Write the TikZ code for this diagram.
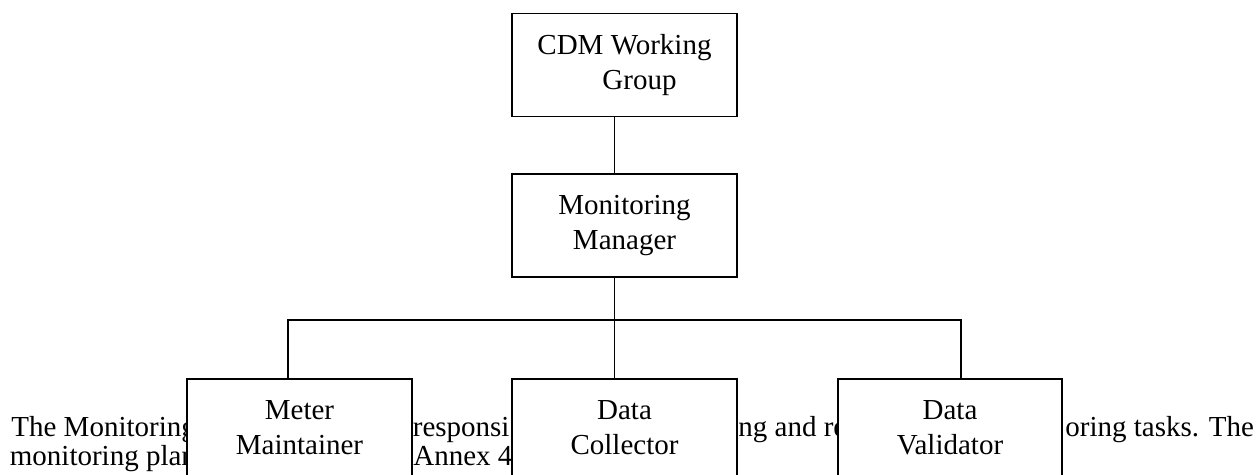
\documentclass[tikz,border=0pt]{standalone}
\usepackage{fontspec}
\setmainfont{Liberation Serif}
\usetikzlibrary{positioning}

\begin{document}
\begin{tikzpicture}[
    x=0.5pt, y=-0.5pt,
    unit/.style={draw, line width=0.75pt, fill=white, align=center,
                 font=\fontsize{14.5pt}{17.5pt}\selectfont, inner sep=0pt,
                 minimum width=112.5pt, minimum height=51.5pt,
                 execute at end node={\vphantom{g}}},
    para/.style={anchor=base west, inner sep=0pt,
                 font=\fontsize{14.5pt}{14.5pt}\selectfont},
    link/.style={line width=0.7pt},
]
\clip (0,0) rectangle (1259,475);
\node[para] (p1a) at (11,437)   {The Monitoring};
\node[para] (p1b) at (412.5,437) {responsi};
\node[para] (p1c) at (738,437)  {ng and re};
\node[para] (p1d) at (1065,437) {oring tasks. The};
\node[para] (p2a) at (9.5,466)  {monitoring plan};
\node[para] (p2b) at (413,466)  {Annex 4};
\node[unit] (cdm)   at (624.5,65)    {CDM Working\\\hspace*{15pt}Group};
\node[unit] (mgr)   at (624.5,225.5) {Monitoring\\Manager};
\node[unit] (meter) at (299.5,430.5) {Meter\\Maintainer};
\node[unit] (col)   at (624.5,430.5) {Data\\Collector};
\node[unit, minimum width=112pt] (val) at (950,430.5) {Data\\Validator};
\coordinate (trunk) at (614.5,320);
\coordinate (bl) at (288,320);
\coordinate (br) at (961,320);
\draw[link] (cdm.south -| trunk) -- (mgr.north -| trunk);
\draw[link] (mgr.south -| trunk) -- (col.north -| trunk);
\draw[link] (meter.north -| bl) -- (bl) -- (br) -- (val.north -| br);
\end{tikzpicture}
\end{document}
